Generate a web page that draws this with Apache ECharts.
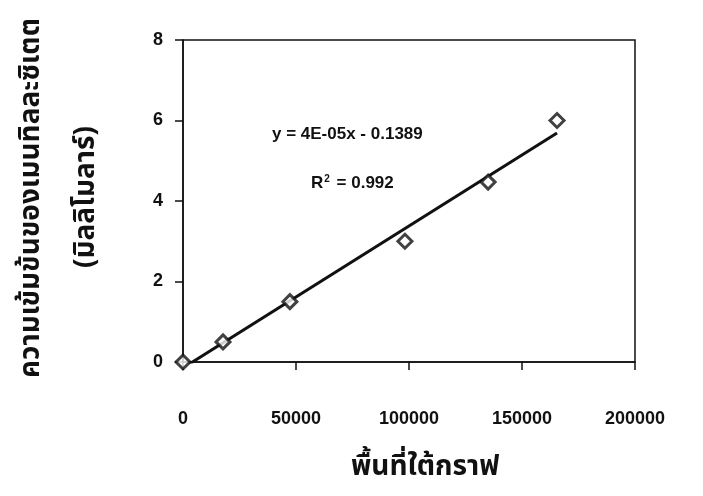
<!DOCTYPE html>
<html>
<head>
<meta charset="utf-8">
<script src="https://cdn.jsdelivr.net/npm/echarts@6/dist/echarts.min.js"></script>
<style>
  html, body { margin: 0; padding: 0; background: #fff; }
  #chart { width: 703px; height: 496px; }
</style>
</head>
<body>
<div id="chart"></div>
<script>
// peak area vs concentration (mM)
const areas = [0, 17700, 47300, 98200, 135000, 165500]
const conc = [0, 0.5, 1.5, 3.0, 4.47, 6.0]
const xTicks = [0, 50000, 100000, 150000, 200000]
const yTicks = [0, 2, 4, 6, 8]
const eqText = 'y = 4E-05x - 0.1389'
const r2Text = '0.992'

// least squares trendline, same as the spreadsheet one
function fitLine (xs, ys) {
  const n = xs.length
  const mx = xs.reduce((a, b) => a + b, 0) / n
  const my = ys.reduce((a, b) => a + b, 0) / n
  let sxy = 0
  let sxx = 0
  for (let i = 0; i < n; i++) {
    sxy += (xs[i] - mx) * (ys[i] - my)
    sxx += (xs[i] - mx) * (xs[i] - mx)
  }
  const slope = sxy / sxx
  return { slope: slope, intercept: my - slope * mx }
}

const fit = fitLine(areas, conc)
const xMin = Math.min(...areas)
const xMax = Math.max(...areas)
const trend = [
  [xMin, fit.slope * xMin + fit.intercept],
  [xMax, fit.slope * xMax + fit.intercept]
]

const numFont = 'Liberation Sans, Arial, sans-serif'
const thaiFont = 'Noto Sans Thai, Noto Sans, DejaVu Sans, sans-serif'

const chart = echarts.init(document.getElementById('chart'))
const option = {
  animation: false,
  backgroundColor: '#fff',
  grid: {
    left: 183,
    right: 68,
    top: 40,
    bottom: 134,
    show: true,
    borderColor: '#111',
    borderWidth: 1.5
  },
  xAxis: {
    type: 'value',
    min: xTicks[0],
    max: xTicks[xTicks.length - 1],
    interval: xTicks[1] - xTicks[0],
    axisLine: { show: true, onZero: false, lineStyle: { color: '#111', width: 1.5 } },
    axisTick: { show: true, inside: false, length: 8, lineStyle: { color: '#111', width: 1.5 } },
    splitLine: { show: false },
    axisLabel: {
      margin: 48,
      color: '#111',
      fontFamily: numFont,
      fontWeight: 'bold',
      fontSize: 18,
      formatter: v => String(v)
    }
  },
  yAxis: {
    type: 'value',
    min: yTicks[0],
    max: yTicks[yTicks.length - 1],
    interval: yTicks[1] - yTicks[0],
    axisLine: { show: true, onZero: false, lineStyle: { color: '#111', width: 1.5 } },
    axisTick: { show: true, inside: false, length: 8, lineStyle: { color: '#111', width: 1.5 } },
    splitLine: { show: false },
    axisLabel: {
      margin: 20,
      color: '#111',
      fontFamily: numFont,
      fontWeight: 'bold',
      fontSize: 18,
      formatter: v => String(v)
    }
  },
  graphic: [
    {
      type: 'text',
      left: 272,
      top: 126,
      style: {
        text: eqText,
        fill: '#111',
        font: 'bold 17px ' + numFont
      }
    },
    {
      type: 'text',
      left: 311,
      top: 174,
      style: {
        text: '{r|R}{s|2}{r| = ' + r2Text + '}',
        rich: {
          r: { fill: '#111', fontSize: 17, fontWeight: 'bold', fontFamily: numFont, verticalAlign: 'bottom' },
          s: { fill: '#111', fontSize: 10, fontWeight: 'bold', fontFamily: numFont, verticalAlign: 'top', padding: [0, 2, 8, 1] }
        }
      }
    },
    {
      type: 'text',
      left: 351,
      top: 455,
      style: {
        text: 'พื้นที่ใต้กราฟ',
        fill: '#111',
        font: 'bold 28px ' + thaiFont
      }
    },
    {
      type: 'text',
      x: 19,
      y: 378,
      rotation: Math.PI / 2,
      style: {
        text: 'ความเข้มข้นของเมนทิลละซิเตต',
        fill: '#111',
        font: 'bold 28px ' + thaiFont
      }
    },
    {
      type: 'text',
      x: 74,
      y: 268,
      rotation: Math.PI / 2,
      style: {
        text: '(มิลลิโมลาร์)',
        fill: '#111',
        font: 'bold 28px ' + thaiFont
      }
    }
  ],
  series: [
    {
      name: 'fit',
      type: 'line',
      data: trend,
      symbol: 'none',
      clip: true,
      lineStyle: { color: '#111', width: 3 },
      z: 2
    },
    {
      name: 'data',
      type: 'scatter',
      data: areas.map((x, i) => [x, conc[i]]),
      symbol: 'diamond',
      symbolSize: 14,
      itemStyle: { color: '#fff', borderColor: '#111', borderWidth: 3 },
      z: 3
    }
  ]
}
chart.setOption(option)
</script>
</body>
</html>
